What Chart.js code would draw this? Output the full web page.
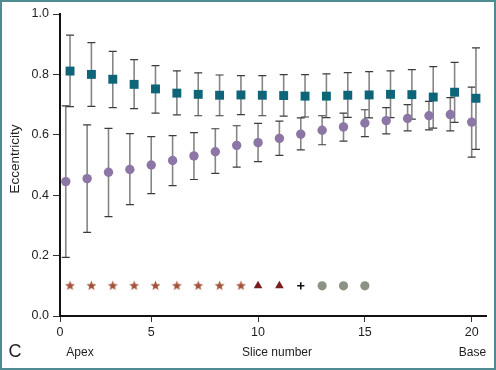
<!DOCTYPE html>
<html>
<head>
<meta charset="utf-8">
<script src="https://cdn.jsdelivr.net/npm/chart.js@4.4.1/dist/chart.umd.min.js"></script>
<style>
  html, body { margin: 0; padding: 0; background: #fff; }
  #wrap { width: 496px; height: 370px; }
</style>
</head>
<body>
<div id="wrap"><canvas id="c" width="496" height="370"></canvas></div>
<script>
// ---- data ----
const slices = [1, 2, 3, 4, 5, 6, 7, 8, 9, 10, 11, 12, 13, 14, 15, 16, 17, 18, 19, 20];

const squareMean = [0.811, 0.800, 0.784, 0.767, 0.752, 0.738, 0.734, 0.731, 0.732, 0.731, 0.730, 0.728, 0.728, 0.731, 0.732, 0.734, 0.733, 0.725, 0.741, 0.721];
const squareHi   = [0.930, 0.905, 0.876, 0.849, 0.829, 0.812, 0.805, 0.798, 0.796, 0.796, 0.799, 0.799, 0.802, 0.806, 0.809, 0.812, 0.816, 0.826, 0.840, 0.888];
const squareLo   = [0.693, 0.694, 0.690, 0.687, 0.672, 0.666, 0.663, 0.663, 0.667, 0.663, 0.662, 0.659, 0.657, 0.658, 0.656, 0.657, 0.652, 0.622, 0.641, 0.552];

const circleMean = [0.445, 0.455, 0.476, 0.485, 0.500, 0.515, 0.530, 0.544, 0.565, 0.574, 0.588, 0.602, 0.615, 0.626, 0.639, 0.647, 0.654, 0.663, 0.667, 0.642];
const circleHi   = [0.696, 0.633, 0.621, 0.604, 0.594, 0.597, 0.607, 0.620, 0.630, 0.638, 0.645, 0.656, 0.663, 0.672, 0.683, 0.690, 0.700, 0.711, 0.723, 0.758];
const circleLo   = [0.194, 0.277, 0.329, 0.369, 0.405, 0.432, 0.452, 0.472, 0.493, 0.511, 0.532, 0.550, 0.567, 0.579, 0.594, 0.603, 0.613, 0.616, 0.613, 0.526];

// significance markers row
const sigLevel = 0.1;
const starSlices = [1, 2, 3, 4, 5, 6, 7, 8, 9];
const triangleSlices = [10, 11];
const plusSlices = [12];
const dotSlices = [13, 14, 15];

// axis ticks
const yTickValues = [0, 0.2, 0.4, 0.6, 0.8, 1.0];
const xTickValues = [0.73, 5, 10, 15, 20];
const xTickLabels = ['0', '5', '10', '15', '20'];
const xRange = [0.73, 20.67];

// ---- presentation ----
const DODGE = 0.2; // squares (and stars) are drawn slightly right of each slice
const FONT = '"Liberation Sans", Arial, Helvetica, sans-serif';

function pts(xs, ys, dx) {
  return xs.map((x, i) => ({ x: x + (dx || 0), y: Array.isArray(ys) ? ys[i] : ys }));
}

// 5-point star image for pointStyle
function makeStar(color, outer, inner) {
  const s = Math.ceil(outer * 2 + 2);
  const cv = document.createElement('canvas');
  cv.width = s; cv.height = s;
  const g = cv.getContext('2d');
  g.translate(s / 2, s / 2);
  g.beginPath();
  for (let k = 0; k < 10; k++) {
    const r = k % 2 === 0 ? outer : inner;
    const a = -Math.PI / 2 + k * Math.PI / 5;
    const px = Math.cos(a) * r, py = Math.sin(a) * r;
    if (k === 0) g.moveTo(px, py); else g.lineTo(px, py);
  }
  g.closePath();
  g.fillStyle = color;
  g.fill();
  return cv;
}
const starImg = makeStar('#a4513a', 5.2, 2.2);

const errorBars = {
  id: 'errorBars',
  beforeDatasetsDraw(chart) {
    const ctx = chart.ctx;
    const xs = chart.scales.x, ys = chart.scales.y;
    chart.data.datasets.forEach(ds => {
      if (!ds.errLo) return;
      ds.data.forEach((p, i) => {
        const x = xs.getPixelForValue(p.x);
        const yh = ys.getPixelForValue(ds.errHi[i]);
        const yl = ys.getPixelForValue(ds.errLo[i]);
        ctx.save();
        ctx.strokeStyle = '#858585';
        ctx.lineWidth = 1.6;
        ctx.beginPath();
        ctx.moveTo(x, yh); ctx.lineTo(x, yl);
        ctx.stroke();
        ctx.strokeStyle = '#3c3c3c';
        ctx.lineWidth = 1.2;
        ctx.beginPath();
        ctx.moveTo(x - 4, yh); ctx.lineTo(x + 4, yh);
        ctx.moveTo(x - 4, yl); ctx.lineTo(x + 4, yl);
        ctx.stroke();
        ctx.restore();
      });
    });
  }
};

const decor = {
  id: 'decor',
  beforeDraw(chart) {
    const ctx = chart.ctx;
    ctx.save();
    ctx.fillStyle = '#ffffff';
    ctx.fillRect(0, 0, chart.width, chart.height);
    ctx.restore();
  },
  afterDraw(chart) {
    const ctx = chart.ctx;
    ctx.save();
    ctx.fillStyle = '#1e1e1e';
    ctx.textBaseline = 'middle';
    ctx.textAlign = 'center';
    ctx.font = '12px ' + FONT;
    ctx.fillText('Apex', 80, 353);
    ctx.fillText('Slice number', 277, 353);
    ctx.fillText('Base', 472.5, 353);
    ctx.font = '18px ' + FONT;
    ctx.fillText('C', 15, 352);
    ctx.save();
    ctx.translate(15, 159);
    ctx.rotate(-Math.PI / 2);
    ctx.font = '13.5px ' + FONT;
    ctx.fillText('Eccentricity', 0, 0);
    ctx.restore();
    // frame
    ctx.strokeStyle = '#4f8c92';
    ctx.lineWidth = 2;
    ctx.strokeRect(1, 1, chart.width - 2, chart.height - 2);
    ctx.restore();
  }
};

new Chart(document.getElementById('c'), {
  type: 'scatter',
  data: {
    datasets: [
      {
        label: 'circles',
        data: pts(slices, circleMean),
        errHi: circleHi, errLo: circleLo,
        pointStyle: 'circle', pointRadius: 4.7,
        backgroundColor: '#8b76a6', borderColor: '#8b76a6', borderWidth: 0
      },
      {
        label: 'squares',
        data: pts(slices, squareMean, DODGE),
        errHi: squareHi, errLo: squareLo,
        pointStyle: 'rect', pointRadius: 6.3,
        backgroundColor: '#0e6479', borderColor: '#0e6479', borderWidth: 0
      },
      {
        label: 'stars',
        data: pts(starSlices, sigLevel, DODGE),
        pointStyle: starImg, pointRadius: 5
      },
      {
        label: 'triangles',
        data: pts(triangleSlices, sigLevel),
        pointStyle: 'triangle', pointRadius: 5,
        backgroundColor: '#7a1d1f', borderColor: '#7a1d1f', borderWidth: 0
      },
      {
        label: 'plus',
        data: pts(plusSlices, sigLevel),
        pointStyle: 'cross', pointRadius: 3.6,
        backgroundColor: '#111', borderColor: '#111', borderWidth: 1.6
      },
      {
        label: 'dots',
        data: pts(dotSlices, sigLevel),
        pointStyle: 'circle', pointRadius: 4.6,
        backgroundColor: '#8b9484', borderColor: '#8b9484', borderWidth: 0
      }
    ]
  },
  options: {
    responsive: false,
    animation: false,
    devicePixelRatio: 1,
    layout: { padding: { left: 0, top: 14, right: 10, bottom: 0 } },
    plugins: { legend: { display: false }, tooltip: { enabled: false } },
    scales: {
      x: {
        type: 'linear',
        min: xRange[0], max: xRange[1],
        afterFit(s) { s.height = 54; },
        afterBuildTicks(s) { s.ticks = xTickValues.map(v => ({ value: v })); },
        border: { display: true, color: '#111', width: 2 },
        grid: { display: true, drawOnChartArea: false, drawTicks: true, tickLength: 6, tickColor: '#333', lineWidth: 1 },
        ticks: {
          autoSkip: false, maxRotation: 0, padding: 3,
          color: '#1e1e1e', font: { family: FONT, size: 12.5 },
          callback(v) { const i = xTickValues.indexOf(v); return i >= 0 ? xTickLabels[i] : ''; }
        }
      },
      y: {
        type: 'linear',
        min: 0, max: 1,
        afterFit(s) { s.width = 60; },
        afterBuildTicks(s) { s.ticks = yTickValues.map(v => ({ value: v })); },
        border: { display: true, color: '#111', width: 2 },
        grid: { display: true, drawOnChartArea: false, drawTicks: true, tickLength: 7, tickColor: '#333', lineWidth: 1 },
        ticks: {
          padding: 4,
          color: '#1e1e1e', font: { family: FONT, size: 12.5 },
          callback(v) { return Number(v).toFixed(1); }
        }
      }
    }
  },
  plugins: [decor, errorBars]
});
</script>
</body>
</html>
